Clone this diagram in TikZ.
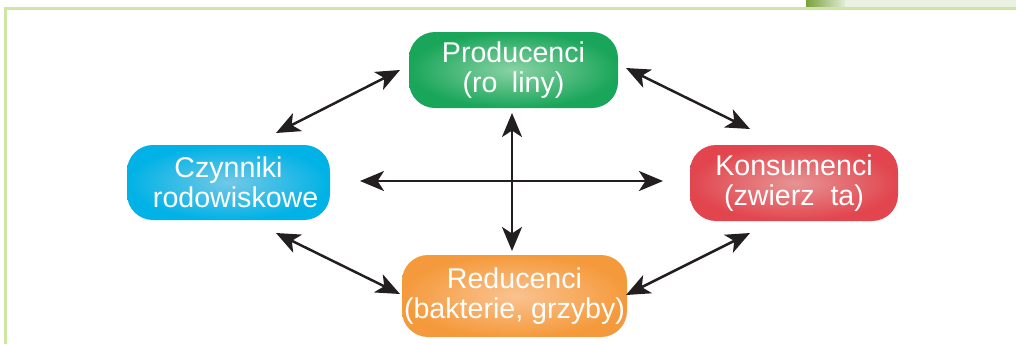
\documentclass[tikz,border=0pt]{standalone}
\usepackage{fontspec}
\setmainfont{Liberation Sans}
\usetikzlibrary{arrows.meta}
\definecolor{frameg}{HTML}{CFE6A3}
\definecolor{gout}{HTML}{1AA65A}\definecolor{gin}{HTML}{8AD2A4}
\definecolor{bout}{HTML}{00B2E6}\definecolor{bin}{HTML}{72C8E6}
\definecolor{rout}{HTML}{E2454E}\definecolor{rin}{HTML}{E69494}
\definecolor{oout}{HTML}{F59A3C}\definecolor{oin}{HTML}{FAC290}
\definecolor{arr}{HTML}{231F20}
\definecolor{decdark}{HTML}{7AA03A}
\definecolor{declight}{HTML}{E2ECD6}
\definecolor{decpale}{HTML}{EAF1E2}
\tikzset{
  box/.style={rounded corners=13pt, inner sep=0pt, align=center, text=white,
    font=\fontsize{14.3}{15}\selectfont},
  link/.style={arr, line width=1.25pt, {Stealth[length=12pt,width=10pt,inset=3.2pt]}-{Stealth[length=12pt,width=10pt,inset=3.2pt]}}
}
\begin{document}
\begin{tikzpicture}[x=0.5pt,y=-0.5pt]
\useasboundingbox (0,0) rectangle (1016,344);
% top-right decoration
\shade[left color=decdark, right color=declight] (806,0) rectangle (845,7.5);
\fill[decpale] (845,0) rectangle (1016,7.5);
% frame
\draw[frameg, line width=1.4pt] (5.7,344) -- (5.7,8.7) -- (1016,8.7);
% nodes
\node[box, minimum width=104.5pt, minimum height=38pt, inner color=gin, outer color=gout] (prod) at (513.5,70) {Producenci\\(ro\phantom{ś}liny)};
\node[box, minimum width=101.5pt, minimum height=37.5pt, inner color=bin, outer color=bout] (czyn) at (228.5,182.5) {Czynniki\\\phantom{ś}rodowiskowe};
\node[box, minimum width=104pt, minimum height=38pt, inner color=rin, outer color=rout] (kons) at (794,183) {Konsumenci\\(zwierz\phantom{ę}ta)};
\node[box, minimum width=112.5pt, minimum height=41pt, inner color=oin, outer color=oout] (red) at (514.5,296) {Reducenci\\(bakterie, grzyby)};
% arrow ends
\coordinate (a1) at (276,133); \coordinate (a2) at (400,70);
\coordinate (b1) at (626,68);  \coordinate (b2) at (750,129);
\coordinate (c1) at (276,233); \coordinate (c2) at (400,294);
\coordinate (d1) at (626,295); \coordinate (d2) at (750,233);
\coordinate (h1) at (360,181); \coordinate (h2) at (663,181);
\coordinate (v1) at (512,113); \coordinate (v2) at (512,251);
\draw[link] (a1) -- (a2);
\draw[link] (b1) -- (b2);
\draw[link] (c1) -- (c2);
\draw[link] (d1) -- (d2);
\draw[link] (h1) -- (h2);
\draw[link] (v1) -- (v2);
\end{tikzpicture}
\end{document}
